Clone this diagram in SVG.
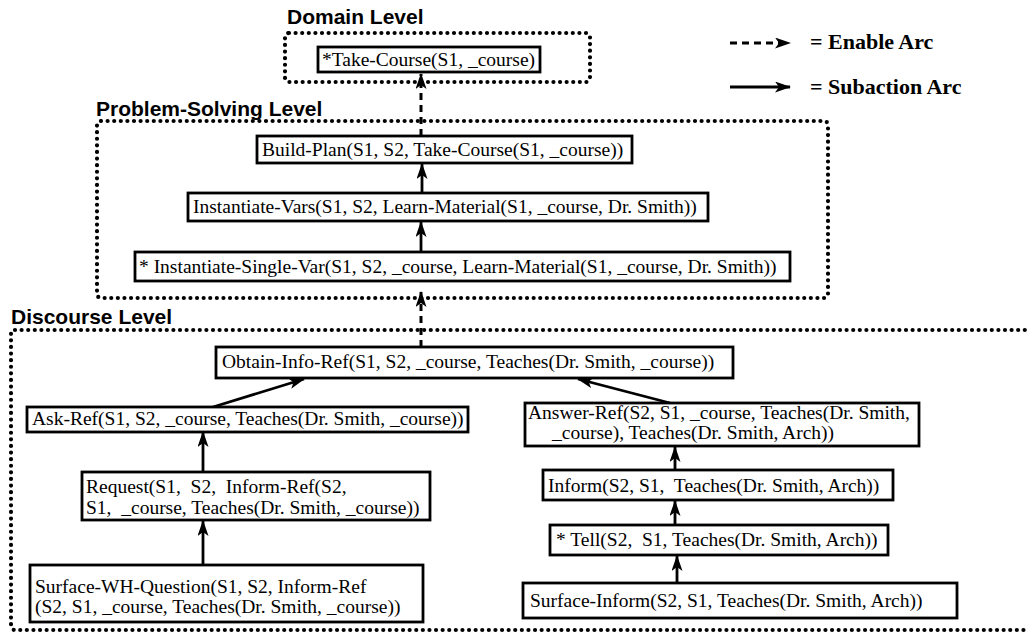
<svg xmlns="http://www.w3.org/2000/svg" width="1028" height="635" viewBox="0 0 1028 635">
<style>
.lvl{fill:none;stroke:#000;stroke-width:4.2;stroke-dasharray:0 6.6;stroke-linecap:round}
.lab{font-family:"Liberation Sans",Arial,sans-serif;font-weight:bold;font-size:21px;fill:#000}
.box{fill:#fff;stroke:#000;stroke-width:2.8}
.t{font-family:"Liberation Serif","Times New Roman",serif;font-size:19.5px;fill:#000;white-space:pre}
.leg{font-family:"Liberation Serif","Times New Roman",serif;font-weight:bold;font-size:22px;fill:#000;white-space:pre}
.sub{fill:none;stroke:#000;stroke-width:2.8;marker-end:url(#ah)}
.en{fill:none;stroke:#000;stroke-width:3;stroke-dasharray:7 5;marker-end:url(#ah)}
</style>
<defs>
<marker id="ah" markerUnits="userSpaceOnUse" viewBox="0 0 16 11" refX="15" refY="5.5" markerWidth="16" markerHeight="11" orient="auto">
<path d="M0,0 L16,5.5 L0,11 L4,5.5 z" fill="#000"/>
</marker>
</defs>
<rect width="1028" height="635" fill="#fff"/>

<g id="levels">
<g id="domain-level">
<rect class="lvl" x="285" y="33" width="305" height="49" rx="4"/>
<text class="lab" x="287" y="24">Domain Level</text>
</g>
<g id="problem-solving-level">
<rect class="lvl" x="97" y="121" width="731" height="177" rx="4"/>
<text class="lab" x="96" y="116">Problem-Solving Level</text>
</g>
<g id="discourse-level">
<rect class="lvl" x="11" y="330" width="1030" height="300" rx="4"/>
<text class="lab" x="11" y="324">Discourse Level</text>
</g>
</g>

<g id="legend">
<line x1="730" y1="43" x2="790" y2="43" class="en" stroke-dasharray="10 5"/>
<text class="leg" x="810" y="49">= Enable Arc</text>
<line x1="730" y1="87" x2="790" y2="87" class="sub"/>
<text class="leg" x="810" y="94">= Subaction Arc</text>
</g>

<g id="connectors">
<line class="en" x1="421" y1="136" x2="421" y2="74"/>
<line class="sub" x1="422" y1="193" x2="422" y2="164"/>
<line class="sub" x1="421" y1="252" x2="421" y2="222"/>
<line class="en" x1="421" y1="347" x2="421" y2="292"/>
<line class="sub" x1="213" y1="407" x2="304" y2="379"/>
<line class="sub" x1="670" y1="403" x2="578" y2="379"/>
<line class="sub" x1="203" y1="472" x2="203" y2="432"/>
<line class="sub" x1="203" y1="565" x2="203" y2="521"/>
<line class="sub" x1="675" y1="470" x2="675" y2="447"/>
<line class="sub" x1="675" y1="525" x2="675" y2="501"/>
<line class="sub" x1="677" y1="583" x2="677" y2="556"/>
</g>

<g id="take-course">
<rect class="box" x="318" y="47" width="222" height="25"/>
<text class="t" x="322" y="66">*Take-Course(S1, _course)</text>
</g>
<g id="build-plan">
<rect class="box" x="257" y="136" width="375" height="27"/>
<text class="t" x="262" y="156">Build-Plan(S1, S2, Take-Course(S1, _course))</text>
</g>
<g id="instantiate-vars">
<rect class="box" x="188" y="193" width="520" height="28"/>
<text class="t" x="193" y="213">Instantiate-Vars(S1, S2, Learn-Material(S1, _course, Dr. Smith))</text>
</g>
<g id="instantiate-single-var">
<rect class="box" x="135" y="252" width="655" height="29"/>
<text class="t" x="139" y="273">* Instantiate-Single-Var(S1, S2, _course, Learn-Material(S1, _course, Dr. Smith))</text>
</g>
<g id="obtain-info-ref">
<rect class="box" x="216" y="347" width="517" height="31"/>
<text class="t" x="222" y="368">Obtain-Info-Ref(S1, S2, _course, Teaches(Dr. Smith, _course))</text>
</g>
<g id="ask-ref">
<rect class="box" x="27" y="407" width="441" height="25"/>
<text class="t" x="32" y="425">Ask-Ref(S1, S2, _course, Teaches(Dr. Smith, _course))</text>
</g>
<g id="answer-ref">
<rect class="box" x="525" y="403" width="394" height="43"/>
<text class="t" x="528" y="419">Answer-Ref(S2, S1, _course, Teaches(Dr. Smith,</text>
<text class="t" x="552" y="439">_course), Teaches(Dr. Smith, Arch))</text>
</g>
<g id="request">
<rect class="box" x="82" y="472" width="348" height="48"/>
<text class="t" x="86" y="493">Request(S1,  S2,  Inform-Ref(S2,</text>
<text class="t" x="86" y="514">S1,  _course, Teaches(Dr. Smith, _course))</text>
</g>
<g id="surface-wh-question">
<rect class="box" x="30" y="565" width="393" height="57"/>
<text class="t" x="35" y="593">Surface-WH-Question(S1, S2, Inform-Ref</text>
<text class="t" x="35" y="613">(S2, S1, _course, Teaches(Dr. Smith, _course))</text>
</g>
<g id="inform">
<rect class="box" x="543" y="470" width="350" height="30"/>
<text class="t" x="548" y="492">Inform(S2, S1,  Teaches(Dr. Smith, Arch))</text>
</g>
<g id="tell">
<rect class="box" x="550" y="525" width="338" height="30"/>
<text class="t" x="556" y="546">* Tell(S2,  S1, Teaches(Dr. Smith, Arch))</text>
</g>
<g id="surface-inform">
<rect class="box" x="523" y="583" width="434" height="35"/>
<text class="t" x="530" y="607">Surface-Inform(S2, S1, Teaches(Dr. Smith, Arch))</text>
</g>
</svg>
